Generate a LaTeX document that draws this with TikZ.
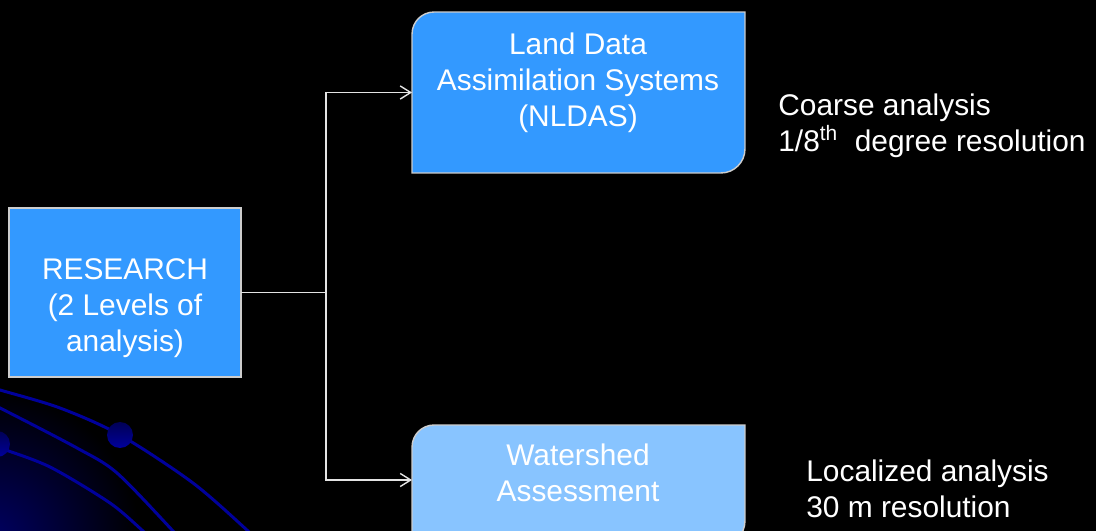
\documentclass[tikz,border=0pt]{standalone}
\usepackage{fontspec}
\setmainfont{Liberation Sans}
\usetikzlibrary{arrows.meta, positioning}
\definecolor{boxblue}{RGB}{51,153,255}
\definecolor{boxpale}{RGB}{136,196,255}
\definecolor{edgegray}{RGB}{205,205,205}
\definecolor{linkgray}{RGB}{228,228,228}
\definecolor{orbitblue}{RGB}{0,0,155}
\definecolor{glowblue}{RGB}{0,0,100}
\tikzset{
	boxtext/.style={font=\fontsize{17}{20.4}\selectfont\color{white}, align=center, inner sep=0pt}
}
\tikzset{
	sidetext/.style={font=\fontsize{17}{20.4}\selectfont\color{white}, align=left, inner sep=0pt, anchor=base west}
}
\tikzset{
	levelbox/.style={minimum width=6.66cm, inner sep=0pt, outer sep=0pt}
}
\tikzset{
	link/.style={draw=linkgray, line width=0.8pt}
}
\tikzset{
	orbit/.style={draw=orbitblue, line width=1.7pt}
}

\begin{document}
\begin{tikzpicture}[x=0.02cm, y=0.02cm]
  \useasboundingbox (0,0) rectangle (1096,531);
  \clip (0,0) rectangle (1096,531);
  \fill[black] (0,0) rectangle (1096,531);
  % glow and orbits, lower left
  \fill[inner color=glowblue, outer color=black] (-10,-10) circle (150);
  \draw[orbit] plot[smooth] coordinates {(-20,147) (0,141) (60,123) (120,96) (193,48) (248,0) (262,-14)};
  \draw[orbit] plot[smooth] coordinates {(-20,132) (0,123) (77,83) (117,58) (173,0) (185,-14)};
  \draw[orbit] plot[smooth] coordinates {(-20,90) (0,83) (50,64) (110,28) (143,0) (155,-11)};
  \foreach \bx/\by in {120/96, -3/87}
    \shade[top color=orbitblue!55!black, bottom color=orbitblue] (\bx,\by) circle (13);

  % boxes
  \node[draw=edgegray, fill=boxblue, line width=0.8pt, minimum width=4.64cm,
        minimum height=3.38cm, outer sep=0pt] (research) at (125,238.5) {};
  \node[levelbox, minimum height=3.22cm] (nldas) at (578.5,438.5) {};
  \node[levelbox, minimum height=2.4cm] (watershed) at (578.5,46) {};
  \foreach \b/\c in {nldas/boxblue, watershed/boxpale}
    \filldraw[fill=\c, draw=edgegray, line width=0.8pt] (\b.south west)
      -- ([yshift=-0.44cm]\b.north west) arc[start angle=180, end angle=90, radius=0.44cm]
      -- (\b.north east)
      -- ([yshift=0.48cm]\b.south east) arc[start angle=0, end angle=-90, radius=0.48cm]
      -- cycle;

  \node[boxtext] (research-text) at (125,222.6) {RESEARCH\\(2 Levels of\\analysis)};
  \node[boxtext] (nldas-text) at (578,448.3) {Land Data\\Assimilation Systems\\(NLDAS)};
  \node[boxtext] (watershed-text) at (578,57.8) {Watershed\\Assessment};
  \node[sidetext] (coarse) at (778,379.3) {Coarse analysis\\1/8\textsuperscript{th}\ \ degree resolution};
  \node[sidetext] (localized) at (806,13.3) {Localized analysis\\30 m resolution};

  % connectors
  \draw[link] (research.east) -- ++(85,0) coordinate (split);
  \draw[link, -{Straight Barb[length=6pt, width=7.5pt]}] (split) |- (nldas.west);
  \draw[link, -{Straight Barb[length=6pt, width=7.5pt]}] (split) |- ([yshift=0.1cm]watershed.west);
\end{tikzpicture}
\end{document}
